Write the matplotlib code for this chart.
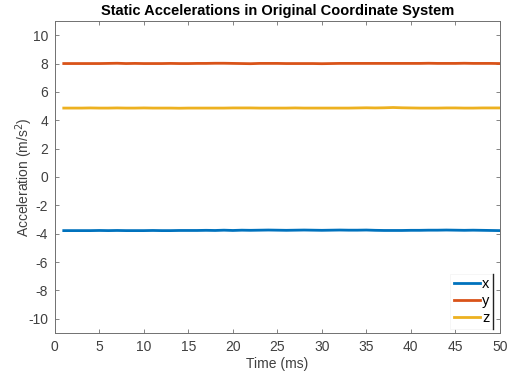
import numpy as np
import matplotlib.pyplot as plt
from matplotlib.lines import Line2D

plt.rcParams['font.family'] = ['Liberation Sans', 'DejaVu Sans']
plt.rcParams['axes.unicode_minus'] = False

# 静态加速度采样 (1..50 ms)
t = np.arange(1, 51)
acc_x = [-3.78, -3.78, -3.78, -3.78, -3.77, -3.78, -3.77, -3.78, -3.78, -3.78,
         -3.77, -3.78, -3.78, -3.77, -3.77, -3.77, -3.76, -3.77, -3.75, -3.77,
         -3.75, -3.76, -3.75, -3.74, -3.75, -3.76, -3.75, -3.74, -3.75, -3.76,
         -3.75, -3.74, -3.75, -3.75, -3.74, -3.76, -3.77, -3.77, -3.77, -3.76,
         -3.76, -3.75, -3.75, -3.74, -3.75, -3.76, -3.75, -3.76, -3.77, -3.78]
acc_y = [8.00, 8.00, 8.00, 8.00, 8.00, 8.01, 8.02, 8.00, 8.01, 8.00,
         8.00, 8.00, 8.01, 8.00, 8.00, 8.01, 8.01, 8.02, 8.02, 8.01,
         8.00, 7.99, 8.01, 8.01, 8.01, 8.00, 8.00, 8.00, 8.00, 7.99,
         8.00, 8.01, 8.01, 8.01, 8.01, 8.01, 8.01, 8.01, 8.01, 8.01,
         8.01, 8.02, 8.01, 8.01, 8.01, 8.02, 8.01, 8.01, 8.01, 8.00]
acc_z = [4.86, 4.86, 4.86, 4.87, 4.86, 4.86, 4.87, 4.86, 4.86, 4.87,
         4.86, 4.86, 4.86, 4.85, 4.86, 4.86, 4.86, 4.86, 4.86, 4.87,
         4.87, 4.87, 4.86, 4.86, 4.86, 4.86, 4.87, 4.86, 4.86, 4.86,
         4.86, 4.86, 4.86, 4.87, 4.88, 4.87, 4.88, 4.90, 4.88, 4.87,
         4.86, 4.86, 4.86, 4.87, 4.87, 4.86, 4.86, 4.87, 4.87, 4.87]

series = [('x', acc_x, '#0072BD'), ('y', acc_y, '#D95319'), ('z', acc_z, '#EDB120')]

text_gray = '#404040'
spine_gray = '#707070'

fig = plt.figure(figsize=(5.08, 3.75), dpi=100)
ax = fig.add_axes([0.108, 0.112, 0.876, 0.832])

for name, vals, color in series:
    ax.plot(t, vals, color=color, linewidth=2.0, label=name)

ax.set_xlim(0, 50)
ax.set_ylim(-11, 11)
ax.set_xticks(np.arange(0, 51, 5))
ax.set_yticks(np.arange(-10, 11, 2))

ax.set_title('Static Accelerations in Original Coordinate System',
             fontsize=10.5, fontweight='bold', color='black', pad=4)
ax.set_xlabel('Time (ms)', fontsize=10, color=text_gray, labelpad=2)
ax.set_ylabel('Acceleration (m/s$^2$)', fontsize=10, color=text_gray)
ax.yaxis.set_label_coords(-0.045, 0.5)

ax.tick_params(direction='in', length=3, width=0.6, color=spine_gray,
               labelcolor=text_gray, labelsize=10, top=True, right=True, pad=5)
for spine in ax.spines.values():
    spine.set_color(spine_gray)
    spine.set_linewidth(0.7)

leg = ax.legend(loc='lower right', fontsize=10.5, frameon=True, fancybox=False,
                handlelength=1.8, handletextpad=0.15, borderpad=0.25,
                labelspacing=0.2, borderaxespad=0.3, bbox_to_anchor=(0.995, 0.0))
leg.get_frame().set_edgecolor('#f2f2f2')
leg.get_frame().set_linewidth(0.6)

# 图例右侧的深色竖线
fig.canvas.draw()
bb = leg.get_window_extent().transformed(fig.transFigure.inverted())
fig.add_artist(Line2D([bb.x1, bb.x1], [bb.y0, bb.y1], transform=fig.transFigure,
                      color='#222222', linewidth=1.0))

fig.savefig('out.png', dpi=100)
